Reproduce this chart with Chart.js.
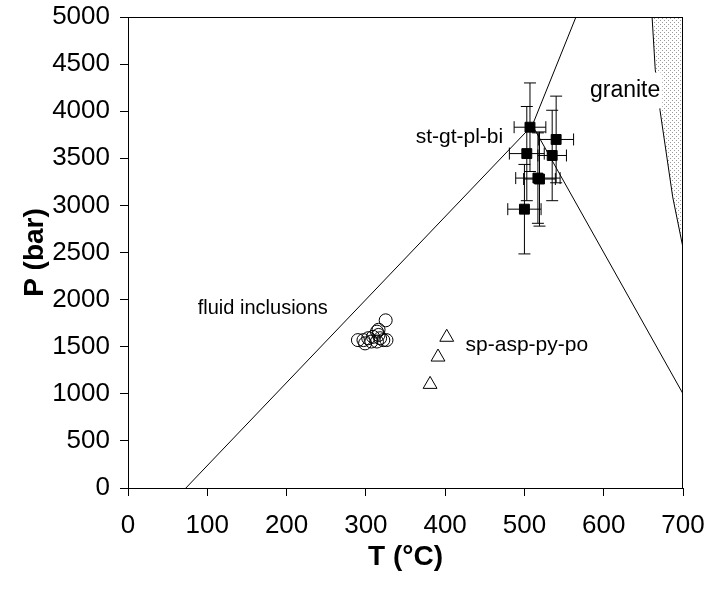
<!DOCTYPE html>
<html>
<head>
<script src="https://cdn.jsdelivr.net/npm/chart.js"></script>
<style>
  body { margin: 0; background: #fff; }
</style>
</head>
<body>
<canvas id="pt-chart" width="707" height="590"></canvas>
<script>
// axis ticks
const xTicks = [0, 100, 200, 300, 400, 500, 600, 700];
const yTicks = [0, 500, 1000, 1500, 2000, 2500, 3000, 3500, 4000, 4500, 5000];

// fluid inclusions (open circles)
const fiT = [290, 297, 303, 309, 314, 316, 318, 322, 326, 299, 307, 314, 316, 325];
const fiP = [1570, 1570, 1590, 1605, 1660, 1625, 1590, 1570, 1570, 1535, 1555, 1555, 1680, 1780];

// sp-asp-py-po (open triangles)
const sulT = [402, 391, 381];
const sulP = [1600, 1390, 1100];

// st-gt-pl-bi (filled squares + error bars)
const stT = [507, 540, 503, 535, 517, 519, 500];
const stP = [3830, 3700, 3550, 3530, 3290, 3280, 2960];
const stErrT = [20, 22, 22, 18, 28, 20, 21];
const stErrP = [470, 460, 500, 480, 480, 500, 475];

// lines
const isoT = [73, 510, 565];
const isoP = [0, 3850, 5000];
const line2T = [510, 700];
const line2P = [3850, 1000];

// granite boundary
const graniteT = [661, 665, 671, 687, 700];
const graniteP = [5000, 4440, 4010, 3090, 2550];

// text labels placed in data coordinates
const notes = [
  { text: 'st-gt-pl-bi', t: 418, p: 3720, size: 21 },
  { text: 'fluid inclusions', t: 170, p: 1910, size: 20 },
  { text: 'sp-asp-py-po', t: 503, p: 1520, size: 21 },
  { text: 'granite', t: 627, p: 4220, size: 23, box: true }
];

const toXY = (xs, ys) => xs.map((x, i) => ({ x: x, y: ys[i] }));
const FONT = '"Liberation Sans", Arial, sans-serif';

// dotted fill for the granite field
function makePattern() {
  const c = document.createElement('canvas');
  c.width = 4; c.height = 4;
  const g = c.getContext('2d');
  g.fillStyle = '#fff';
  g.fillRect(0, 0, 4, 4);
  g.fillStyle = '#9a9a9a';
  g.fillRect(0, 0, 1, 1);
  g.fillRect(2, 2, 1, 1);
  return g.createPattern(c, 'repeat');
}

const extras = {
  id: 'extras',
  beforeDatasetsDraw(chart) {
    const { ctx, scales: { x, y } } = chart;
    ctx.save();
    ctx.strokeStyle = '#000';
    ctx.lineWidth = 1;
    const cap = 6;
    stT.forEach((t, i) => {
      const px = x.getPixelForValue(t);
      const py = y.getPixelForValue(stP[i]);
      const x0 = x.getPixelForValue(t - stErrT[i]);
      const x1 = x.getPixelForValue(t + stErrT[i]);
      const y0 = y.getPixelForValue(stP[i] - stErrP[i]);
      const y1 = y.getPixelForValue(stP[i] + stErrP[i]);
      ctx.beginPath();
      ctx.moveTo(x0, py); ctx.lineTo(x1, py);
      ctx.moveTo(x0, py - cap); ctx.lineTo(x0, py + cap);
      ctx.moveTo(x1, py - cap); ctx.lineTo(x1, py + cap);
      ctx.moveTo(px, y0); ctx.lineTo(px, y1);
      ctx.moveTo(px - cap, y0); ctx.lineTo(px + cap, y0);
      ctx.moveTo(px - cap, y1); ctx.lineTo(px + cap, y1);
      ctx.stroke();
    });
    ctx.restore();
  },
  afterDraw(chart) {
    const { ctx, chartArea: a, scales: { x, y } } = chart;
    ctx.save();
    ctx.strokeStyle = '#000';
    ctx.lineWidth = 1;
    ctx.strokeRect(a.left + 0.5, a.top + 0.5, a.right - a.left - 1, a.bottom - a.top);
    ctx.textAlign = 'center';
    ctx.textBaseline = 'middle';
    notes.forEach(n => {
      ctx.font = n.size + 'px ' + FONT;
      const px = x.getPixelForValue(n.t);
      const py = y.getPixelForValue(n.p);
      if (n.box) {
        const w = ctx.measureText(n.text).width;
        ctx.fillStyle = '#fff';
        ctx.fillRect(px - w / 2 - 4, py - 18, w + 6, 36);
      }
      ctx.fillStyle = '#000';
      ctx.fillText(n.text, px, py);
    });
    ctx.restore();
  }
};

const axisCommon = {
  type: 'linear',
  grid: { drawOnChartArea: false, drawTicks: true, tickLength: 8, color: '#000' },
  border: { color: '#000', width: 1 },
};

new Chart(document.getElementById('pt-chart'), {
  type: 'scatter',
  data: {
    datasets: [
      {
        label: 'granite',
        data: toXY(graniteT, graniteP),
        showLine: true,
        borderColor: '#000',
        borderWidth: 1,
        pointRadius: 0,
        fill: 'end',
        backgroundColor: makePattern()
      },
      {
        label: 'isochore',
        data: toXY(isoT, isoP),
        showLine: true,
        borderColor: '#000',
        borderWidth: 1,
        pointRadius: 0
      },
      {
        label: 'line2',
        data: toXY(line2T, line2P),
        showLine: true,
        borderColor: '#000',
        borderWidth: 1,
        pointRadius: 0
      },
      {
        label: 'fluid inclusions',
        data: toXY(fiT, fiP),
        pointStyle: 'circle',
        pointRadius: 6.5,
        borderColor: '#000',
        borderWidth: 1,
        backgroundColor: 'rgba(0,0,0,0)'
      },
      {
        label: 'sp-asp-py-po',
        data: toXY(sulT, sulP),
        pointStyle: 'triangle',
        pointRadius: 8,
        borderColor: '#000',
        borderWidth: 1,
        backgroundColor: 'rgba(0,0,0,0)'
      },
      {
        label: 'st-gt-pl-bi',
        data: toXY(stT, stP),
        pointStyle: 'rect',
        pointRadius: 7,
        borderColor: '#000',
        borderWidth: 1,
        backgroundColor: '#000'
      }
    ]
  },
  options: {
    responsive: false,
    animation: false,
    layout: { padding: { left: 14, right: 24, top: 17, bottom: 12 } },
    plugins: { legend: { display: false }, tooltip: { enabled: false } },
    scales: {
      x: {
        ...axisCommon,
        min: 0, max: 700,
        afterBuildTicks: s => { s.ticks = xTicks.map(v => ({ value: v })); },
        afterFit: s => { s.height = 90; s.paddingLeft = 0; s.paddingRight = 0; },
        ticks: { color: '#000', padding: 14, maxRotation: 0, font: { family: FONT, size: 26 },
                 callback: v => String(v) },
        title: { display: true, text: 'T (°C)', color: '#000', font: { family: FONT, size: 28, weight: 'bold' } }
      },
      y: {
        ...axisCommon,
        min: 0, max: 5000,
        afterBuildTicks: s => { s.ticks = yTicks.map(v => ({ value: v })); },
        afterFit: s => { s.width = 114; s.paddingTop = 0; s.paddingBottom = 0; },
        ticks: { color: '#000', padding: 10, font: { family: FONT, size: 26 },
                 callback: v => String(v) },
        title: { display: true, text: 'P (bar)', color: '#000', font: { family: FONT, size: 28, weight: 'bold' } }
      }
    }
  },
  plugins: [extras]
});
</script>
</body>
</html>
